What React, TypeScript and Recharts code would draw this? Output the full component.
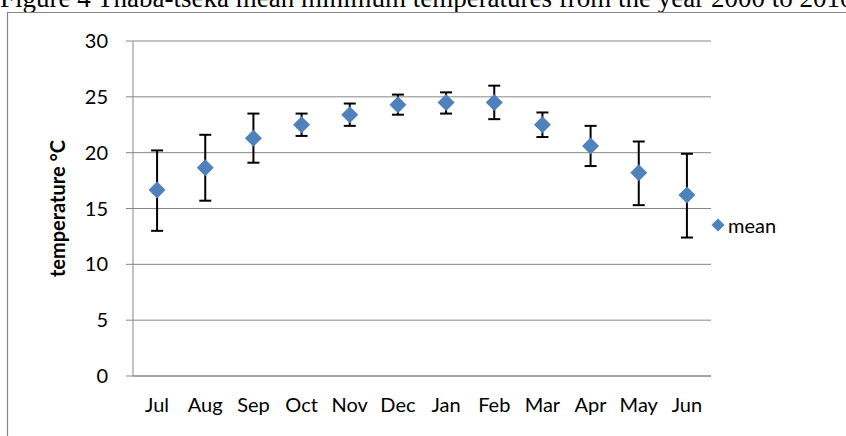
import React from 'react';
import {
  ComposedChart,
  Scatter,
  ErrorBar,
  XAxis,
  YAxis,
  CartesianGrid,
} from 'recharts';

// months as shown on the axis (July to June)
const months = ['Jul', 'Aug', 'Sep', 'Oct', 'Nov', 'Dec', 'Jan', 'Feb', 'Mar', 'Apr', 'May', 'Jun'];
// mean minimum temperature (°C)
const meanTemp = [16.65, 18.65, 21.3, 22.5, 23.4, 24.3, 24.5, 24.5, 22.5, 20.6, 18.2, 16.2];
// error bar extents below / above the mean
const errLow = [3.65, 2.95, 2.2, 1.0, 1.0, 0.9, 1.0, 1.5, 1.1, 1.8, 2.9, 3.8];
const errHigh = [3.55, 2.95, 2.2, 1.0, 1.0, 0.9, 0.9, 1.5, 1.1, 1.8, 2.8, 3.7];
const yTicks = [0, 5, 10, 15, 20, 25, 30];
const edgeTicks = [0, 1, 2, 3, 4, 5, 6, 7, 8, 9, 10, 11, 12];

const rows = months.map((m, i) => ({
  month: m,
  mean: meanTemp[i],
  err: [errLow[i], errHigh[i]],
}));

const GREY = '#868686';
const BLUE = '#4F81BD';
const FONT = 'Lato, "Open Sans", sans-serif';

const Diamond = (props: any) => {
  const { cx, cy } = props;
  const r = 8.5;
  return (
    <polygon
      points={`${cx},${cy - r} ${cx + r},${cy} ${cx},${cy + r} ${cx - r},${cy}`}
      fill={BLUE}
    />
  );
};

export default function App() {
  return (
    <div
      style={{
        position: 'fixed',
        left: 0,
        top: 0,
        width: 846,
        height: 436,
        overflow: 'hidden',
        background: '#fff',
      }}
    >
      {/* title, cut off at the top of the picture */}
      <div
        style={{
          position: 'absolute',
          left: 0,
          top: -15,
          fontFamily: '"Liberation Serif", "Times New Roman", serif',
          fontSize: 27,
          lineHeight: '27px',
          whiteSpace: 'nowrap',
          color: '#000',
        }}
      >
        Figure 4 Thaba-tseka mean minimum temperatures from the year 2000 to 2010
      </div>

      {/* legend */}
      <div
        style={{
          position: 'absolute',
          left: 711,
          top: 213,
          display: 'flex',
          alignItems: 'center',
          fontFamily: FONT,
          fontSize: 20,
          color: '#000',
        }}
      >
        <svg width={14} height={14} style={{ marginRight: 3 }}>
          <polygon points="7,0.5 13.5,7 7,13.5 0.5,7" fill={BLUE} />
        </svg>
        <span>mean</span>
      </div>

      <div style={{ position: 'absolute', left: 0, top: 0 }}>
        <ComposedChart
          width={846}
          height={436}
          data={rows}
          margin={{ top: 41, right: 135, bottom: 30, left: 73 }}
        >
          <CartesianGrid vertical={false} stroke={GREY} strokeWidth={1} />
          <XAxis
            xAxisId="edges"
            type="number"
            domain={[0, 12]}
            ticks={edgeTicks}
            tick={false}
            axisLine={false}
            tickLine={{ stroke: GREY }}
            tickSize={6}
            height={0}
            allowDataOverflow
          />
          <XAxis
            dataKey="month"
            type="category"
            scale="band"
            tickLine={false}
            axisLine={{ stroke: GREY }}
            tick={{ fontSize: 20, fill: '#000', fontFamily: FONT }}
            tickMargin={16}
            height={30}
            interval={0}
          />
          <YAxis
            type="number"
            domain={[0, 30]}
            ticks={yTicks}
            width={60}
            axisLine={{ stroke: GREY }}
            tickLine={{ stroke: GREY }}
            tickSize={7}
            tickMargin={18}
            tick={{ fontSize: 20, fill: '#000', fontFamily: FONT }}
            label={{
              value: 'temperature °C',
              angle: -90,
              position: 'center',
              dx: -45,
              style: { fontSize: 20, fontWeight: 'bold', fill: '#000', fontFamily: FONT, textAnchor: 'middle' },
            }}
          />
          <Scatter
            name="mean"
            dataKey="mean"
            fill={BLUE}
            shape={Diamond}
            isAnimationActive={false}
          >
            <ErrorBar dataKey="err" direction="y" width={6} stroke="#000" strokeWidth={2} />
          </Scatter>
        </ComposedChart>
      </div>

      {/* chart frame, drawn on top */}
      <svg
        width={846}
        height={436}
        style={{ position: 'absolute', left: 0, top: 0, pointerEvents: 'none' }}
      >
        <polyline points="7.5,436 7.5,12.5 846,12.5" fill="none" stroke={GREY} strokeWidth={1.2} />
      </svg>
    </div>
  );
}
